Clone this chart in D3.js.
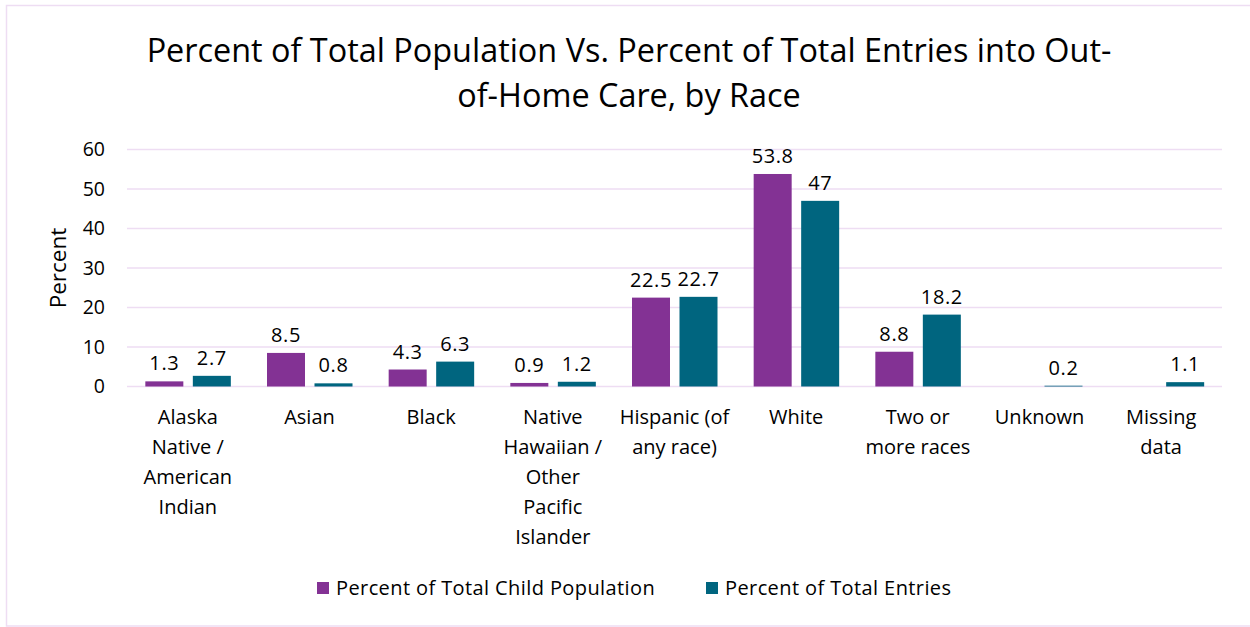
<!DOCTYPE html>
<html><head><meta charset="utf-8">
<script src="https://cdn.jsdelivr.net/npm/d3@7"></script>
<style>body{margin:0;background:#fff;} svg{display:block;font-family:"Open Sans",Lato,sans-serif;}</style>
</head><body>
<svg id="c" width="1250" height="627"></svg>
<script>
const categories = [
  ["Alaska","Native /","American","Indian"],
  ["Asian"],
  ["Black"],
  ["Native","Hawaiian /","Other","Pacific","Islander"],
  ["Hispanic (of","any race)"],
  ["White"],
  ["Two or","more races"],
  ["Unknown"],
  ["Missing","data"]
];
const populationPct = [1.3, 8.5, 4.3, 0.9, 22.5, 53.8, 8.8, null, null];
const entriesPct = [2.7, 0.8, 6.3, 1.2, 22.7, 47, 18.2, 0.2, 1.1];
const seriesNames = ["Percent of Total Child Population", "Percent of Total Entries"];
const colors = ["#833294", "#00657F"];
const yTicks = [0, 10, 20, 30, 40, 50, 60];

const FONT = "'Open Sans',Lato,sans-serif";
const svg = d3.select("#c");
svg.append("rect").attr("x",6.5).attr("y",5.5).attr("width",1250).attr("height",620.5)
  .attr("fill","#fff").attr("stroke","#EEDDF3").attr("stroke-width",1.5);

const x = d3.scaleBand().domain(d3.range(categories.length)).range([127, 1222]);
const y = d3.scaleLinear().domain([0, 60]).range([386.5, 149.5]);

// title
const title = svg.append("text").attr("text-anchor","middle").attr("font-size",32.4).attr("fill","#000");
title.append("tspan").attr("x",629).attr("y",62).text("Percent of Total Population Vs. Percent of Total Entries into Out-");
title.append("tspan").attr("x",629).attr("y",107).text("of-Home Care, by Race");

// gridlines
svg.append("g").selectAll("line").data(yTicks).join("line")
  .attr("x1",127).attr("x2",1222).attr("y1",d=>y(d)).attr("y2",d=>y(d))
  .attr("stroke","#EEDDF3").attr("stroke-width",1.5);

// y axis
const yAxis = svg.append("g").attr("transform","translate(127,0)")
  .call(d3.axisLeft(y).tickValues(yTicks).tickSize(0).tickPadding(22));
yAxis.select(".domain").remove();
yAxis.selectAll("text").attr("font-size",19.5).attr("fill","#000").attr("font-family",FONT);

svg.append("text").attr("transform","translate(66,268) rotate(-90)").attr("text-anchor","middle")
  .attr("font-size",22.5).attr("fill","#000").text("Percent");

// bars
const barW = 38, offs = [-23.5, 24];
const series = [populationPct, entriesPct];
series.forEach((vals, si) => {
  const g = svg.append("g");
  const data = vals.map((v,i)=>({v,i})).filter(d=>d.v!==null);
  g.selectAll("rect").data(data).join("rect")
    .attr("x", d => x(d.i) + x.bandwidth()/2 + offs[si] - barW/2)
    .attr("y", d => y(d.v))
    .attr("width", barW)
    .attr("height", d => y(0) - y(d.v))
    .attr("fill", colors[si]);
  g.selectAll("text").data(data).join("text")
    .attr("x", d => x(d.i) + x.bandwidth()/2 + offs[si])
    .attr("y", d => y(d.v) - 11)
    .attr("text-anchor","middle").attr("font-size",20).attr("letter-spacing",0.6).attr("fill","#000")
    .text(d => d.v);
});

// category labels
const xl = svg.append("g");
categories.forEach((lines, i) => {
  const t = xl.append("text").attr("text-anchor","middle").attr("font-size",20).attr("fill","#000");
  lines.forEach((l, j) => {
    t.append("tspan").attr("x", x(i) + x.bandwidth()/2).attr("y", 424 + j*30).text(l);
  });
});

// legend
const legX = [317, 706];
seriesNames.forEach((n, i) => {
  svg.append("rect").attr("x",legX[i]).attr("y",582).attr("width",12).attr("height",12).attr("fill",colors[i]);
  svg.append("text").attr("x",legX[i]+19).attr("y",595).attr("font-size",20).attr("letter-spacing",0.4).attr("fill","#000").text(n);
});
</script>
</body></html>
